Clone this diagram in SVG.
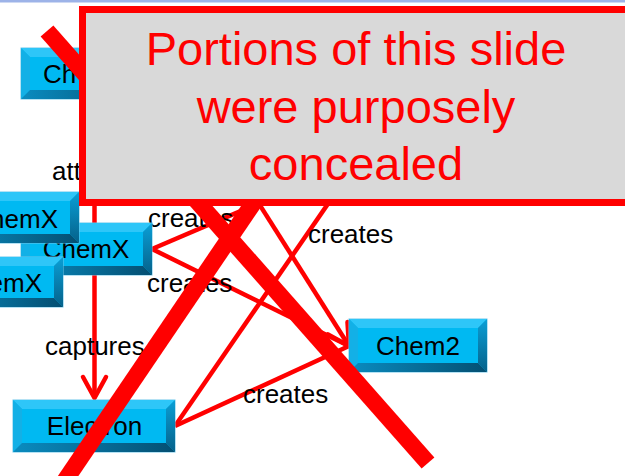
<svg xmlns="http://www.w3.org/2000/svg" width="625" height="476" viewBox="0 0 625 476">
  <defs>
    <linearGradient id="gRight" x1="0" y1="0" x2="0" y2="1">
      <stop offset="0" stop-color="#0a9fd6"/>
      <stop offset="1" stop-color="#05618a"/>
    </linearGradient>
    <linearGradient id="gBottom" x1="0" y1="0" x2="1" y2="0">
      <stop offset="0" stop-color="#0a8cc0"/>
      <stop offset="1" stop-color="#044f72"/>
    </linearGradient>
    <marker id="vhead" markerUnits="userSpaceOnUse" markerWidth="30" markerHeight="30" viewBox="-24 -15 28 30" refX="0" refY="0" orient="auto" overflow="visible">
      <path d="M-21,-11.5 L0,0 L-21,11.5" fill="none" stroke="#ff0000" stroke-width="4.5" stroke-linejoin="round" stroke-linecap="round"/>
    </marker>
    <style>
      .face { fill: #00b9f2; stroke: #6cc6ea; stroke-width: 1; }
      .bt { fill: #2ec6f8; }
      .bl { fill: #13b0e6; }
      .br { fill: url(#gRight); }
      .bb { fill: url(#gBottom); }
      .ntext { font-family: "Liberation Sans", Arial, sans-serif; font-size: 26px; fill: #000000; }
      .lbl { font-family: "Liberation Sans", Arial, sans-serif; font-size: 26px; fill: #000000; }
      .edge { fill: none; stroke: #ff0000; stroke-width: 4.5; }
      .strike { fill: none; stroke: #ff0000; stroke-width: 17; stroke-linecap: butt; }
      .cover { fill: #d9d9d9; stroke: #ff0000; stroke-width: 7; }
      .ctext { font-family: "Liberation Sans", Arial, sans-serif; font-size: 47px; fill: #ff0000; text-anchor: middle; }
    </style>
  </defs>

  <rect width="625" height="476" fill="#ffffff"/>
  <!-- header rule -->
  <rect x="0" y="0" width="625" height="2.5" fill="#9db3e8"/>

  <!-- connectors -->
  <g id="connectors">
    <line class="edge" x1="94.5" y1="150" x2="94.5" y2="398" marker-end="url(#vhead)"/>
    <line class="edge" x1="152" y1="249" x2="290" y2="190"/>
    <line class="edge" x1="152" y1="249" x2="349" y2="346"/>
    <line class="edge" x1="225" y1="150" x2="349" y2="346" marker-end="url(#vhead)"/>
    <line class="edge" x1="365" y1="150" x2="175" y2="426"/>
    <line class="edge" x1="349" y1="346" x2="175" y2="426"/>
  </g>

  <!-- edge labels -->
  <g id="labels">
    <text class="lbl" x="52" y="180">att</text>
    <text class="lbl" x="148" y="227">creates</text>
    <text class="lbl" x="308" y="243">creates</text>
    <text class="lbl" x="147" y="292">creates</text>
    <text class="lbl" x="45" y="355">captures</text>
    <text class="lbl" x="243" y="403">creates</text>
  </g>

  <!-- nodes -->
  <g id="node-chem-top" transform="translate(21,48)">
    <rect class="face" width="131" height="51"/>
    <polygon class="bt" points="0,0 131,0 122,9 9,9"/>
    <polygon class="bl" points="0,0 9,9 9,42 0,51"/>
    <polygon class="br" points="131,0 131,51 122,42 122,9"/>
    <polygon class="bb" points="0,51 131,51 122,42 9,42"/>
    <text class="ntext" x="22" y="35">Ch</text>
  </g>

  <g id="node-chemx" transform="translate(21,223)">
    <rect class="face" width="131" height="52"/>
    <polygon class="bt" points="0,0 131,0 122,9 9,9"/>
    <polygon class="bl" points="0,0 9,9 9,43 0,52"/>
    <polygon class="br" points="131,0 131,52 122,43 122,9"/>
    <polygon class="bb" points="0,52 131,52 122,43 9,43"/>
    <text class="ntext" x="65" y="35" text-anchor="middle">ChemX</text>
  </g>

  <g id="node-chemx-upper" transform="translate(-52,192)">
    <rect class="face" width="131" height="51"/>
    <polygon class="bt" points="0,0 131,0 122,9 9,9"/>
    <polygon class="bl" points="0,0 9,9 9,42 0,51"/>
    <polygon class="br" points="131,0 131,51 122,42 122,9"/>
    <polygon class="bb" points="0,51 131,51 122,42 9,42"/>
    <text class="ntext" x="110" y="36" text-anchor="end">ChemX</text>
  </g>

  <g id="node-chemx-lower" transform="translate(-68,257)">
    <rect class="face" width="131" height="50"/>
    <polygon class="bt" points="0,0 131,0 122,9 9,9"/>
    <polygon class="bl" points="0,0 9,9 9,41 0,50"/>
    <polygon class="br" points="131,0 131,50 122,41 122,9"/>
    <polygon class="bb" points="0,50 131,50 122,41 9,41"/>
    <text class="ntext" x="110" y="35" text-anchor="end">ChemX</text>
  </g>

  <g id="node-chem2" transform="translate(349,319)">
    <rect class="face" width="138" height="53"/>
    <polygon class="bt" points="0,0 138,0 129,9 9,9"/>
    <polygon class="bl" points="0,0 9,9 9,44 0,53"/>
    <polygon class="br" points="138,0 138,53 129,44 129,9"/>
    <polygon class="bb" points="0,53 138,53 129,44 9,44"/>
    <text class="ntext" x="69" y="36" text-anchor="middle">Chem2</text>
  </g>

  <g id="node-electron" transform="translate(13,400)">
    <rect class="face" width="162" height="52"/>
    <polygon class="bt" points="0,0 162,0 153,9 9,9"/>
    <polygon class="bl" points="0,0 9,9 9,43 0,52"/>
    <polygon class="br" points="162,0 162,52 153,43 153,9"/>
    <polygon class="bb" points="0,52 162,52 153,43 9,43"/>
    <text class="ntext" x="81.5" y="35" text-anchor="middle">Electron</text>
  </g>

  <!-- strike-out cross -->
  <g id="strike">
    <line class="strike" x1="47" y1="31" x2="428" y2="463"/>
    <line class="strike" x1="330" y1="90" x2="60" y2="488"/>
  </g>

  <!-- concealment panel -->
  <g id="cover">
    <rect class="cover" x="82.5" y="9.5" width="600" height="193"/>
    <text class="ctext" x="356" y="65">Portions of this slide</text>
    <text class="ctext" x="356" y="123">were purposely</text>
    <text class="ctext" x="356" y="180">concealed</text>
  </g>
</svg>
